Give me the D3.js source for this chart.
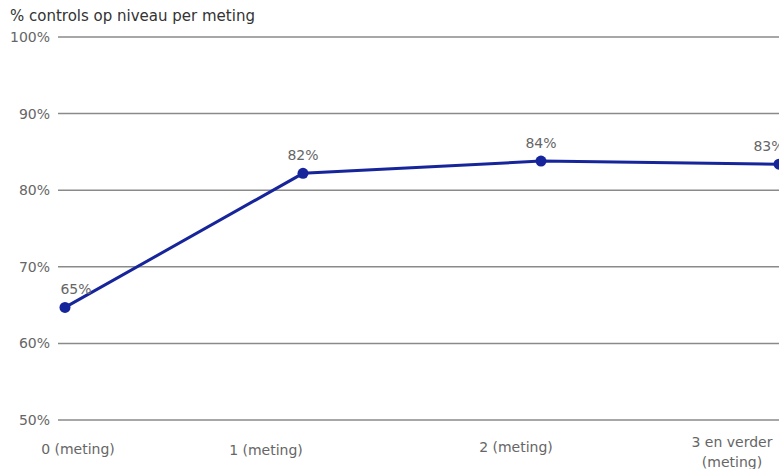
<!DOCTYPE html>
<html><head><meta charset="utf-8">
<script src="https://cdn.jsdelivr.net/npm/d3@7"></script>
<style>body{margin:0;background:#fff}svg{display:block}text{font-family:"DejaVu Sans",Verdana,sans-serif}</style>
</head><body><svg id="c" width="779" height="469"></svg>
<script>
const categories = ["0 (meting)", "1 (meting)", "2 (meting)", "3 en verder (meting)"];
const values = [64.7, 82.2, 83.8, 83.4];
const yTicks = [50, 60, 70, 80, 90, 100];
const title = "% controls op niveau per meting";

const W = 779, H = 469;
const svg = d3.select("#c");
const x = d3.scalePoint().domain(categories).range([65, 779]);
const y = d3.scaleLinear().domain([50, 100]).range([420, 37]);

svg.append("text").attr("x", 10).attr("y", 21).attr("font-size", 15).attr("fill", "#333").text(title);

// grid
const g = svg.append("g");
g.selectAll("line").data(yTicks).join("line")
  .attr("x1", 58).attr("x2", W).attr("y1", d => y(d)).attr("y2", d => y(d))
  .attr("stroke", "#8a8a8a").attr("stroke-width", 1.5);
g.selectAll("text").data(yTicks).join("text")
  .attr("x", 50).attr("y", d => y(d)).attr("dy", "0.35em").attr("text-anchor", "end")
  .attr("font-size", 14).attr("fill", "#666").text(d => d + "%");

// x labels
const xlOff = [13, -37, -25, -47];
const xlDy = [449, 450, 447, 442];
const xl = svg.append("g");
categories.forEach((c, i) => {
  const t = xl.append("text").attr("text-anchor", "middle").attr("font-size", 14).attr("fill", "#666")
    .attr("y", xlDy[i]).attr("dy", "0.35em");
  const parts = c === "3 en verder (meting)" ? ["3 en verder", "(meting)"] : [c];
  parts.forEach((p, j) => t.append("tspan").attr("x", x(c) + xlOff[i]).attr("dy", j === 0 ? "0.35em" : 20).text(p));
});

// line
const data = categories.map((c, i) => ({c, v: values[i]}));
svg.append("path").datum(data)
  .attr("d", d3.line().x(d => x(d.c)).y(d => y(d.v)))
  .attr("fill", "none").attr("stroke", "#17259b").attr("stroke-width", 3);
svg.selectAll("circle.p").data(data).join("circle")
  .attr("cx", d => x(d.c)).attr("cy", d => y(d.v)).attr("r", 5.5).attr("fill", "#17259b");

const dlOff = [11, 0, 0, -10];
svg.selectAll("text.dl").data(data).join("text").attr("class", "dl")
  .attr("x", (d, i) => x(d.c) + dlOff[i]).attr("y", d => y(d.v) - 13)
  .attr("text-anchor", "middle").attr("font-size", 14).attr("fill", "#666")
  .text(d => Math.round(d.v) + "%");
</script></body></html>
